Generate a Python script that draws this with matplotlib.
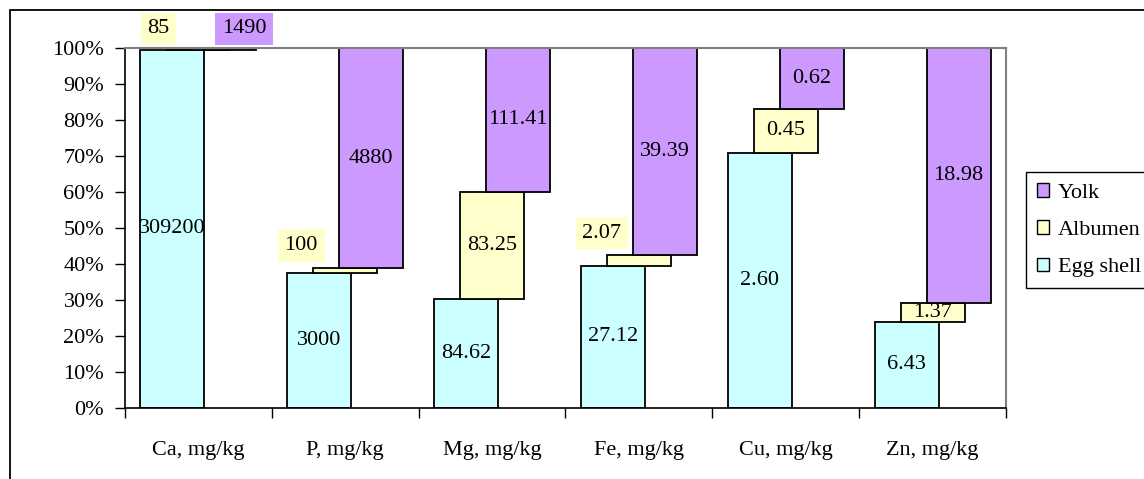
import numpy as np
import matplotlib
matplotlib.use('Agg')
import matplotlib.pyplot as plt
from matplotlib.patches import Rectangle, Patch
from matplotlib.ticker import FixedLocator, PercentFormatter

# data (mg/kg by part of the egg)
categories = ['Ca, mg/kg', 'P, mg/kg', 'Mg, mg/kg', 'Fe, mg/kg', 'Cu, mg/kg', 'Zn, mg/kg']
egg_shell = [309200, 3000, 84.62, 27.12, 2.60, 6.43]
albumen = [85, 100, 83.25, 2.07, 0.45, 1.37]
yolk = [1490, 4880, 111.41, 39.39, 0.62, 18.98]
series_names = ['Egg shell', 'Albumen', 'Yolk']

colors = ['#CCFFFF', '#FFFFCC', '#CC99FF']

plt.rcParams['font.family'] = ['Liberation Serif', 'DejaVu Serif']
plt.rcParams['font.size'] = 16

def fmt(v):
    return f'{v:g}' if float(v).is_integer() else f'{v:.2f}'

vals = np.array([egg_shell, albumen, yolk], dtype=float)
pct = vals / vals.sum(axis=0) * 100
bottoms = np.vstack([np.zeros(len(categories)), np.cumsum(pct, axis=0)[:-1]])

fig = plt.figure(figsize=(11.44, 4.79), dpi=100)
ax = fig.add_axes([125/1144, 1 - 408/479, (1006 - 125)/1144, (408 - 48)/479])

x = np.arange(len(categories))
width = 0.435
shift = 0.177

# labels Excel pushed out of tiny segments: (series, category) -> pixel offset
moved = {(1, 0): (-40, 21), (2, 0): (20, 20), (1, 1): (-44, 25), (1, 3): (-37, 27)}

for s in range(3):
    xs = x + (s - 1) * shift
    bars = ax.bar(xs, pct[s], width, bottom=bottoms[s], color=colors[s],
                  edgecolor='black', linewidth=1.3, zorder=2)
    for c in range(len(categories)):
        cy = bottoms[s][c] + pct[s][c] / 2
        off = moved.get((s, c), (0, 0))
        kw = {}
        if (s, c) in moved:
            kw['bbox'] = dict(boxstyle='square,pad=0.3', fc=colors[s], ec='none')
        t = ax.annotate(fmt(vals[s][c]), (xs[c], cy), xytext=off,
                        textcoords='offset pixels', ha='center', va='center',
                        fontsize=16, zorder=4, annotation_clip=False, **kw)
        if (s, c) == (1, 5):
            t.set_clip_path(bars[c])

ax.set_xlim(-0.5, len(categories) - 0.5)
ax.set_ylim(0, 100)
ax.yaxis.set_major_locator(FixedLocator(np.arange(0, 101, 10)))
ax.yaxis.set_major_formatter(PercentFormatter(decimals=0))
ax.tick_params(axis='y', direction='out', length=7, width=1, pad=8, labelsize=16)

ax.set_xticks(x)
ax.set_xticklabels(categories)
ax.set_xticks(np.arange(-0.5, len(categories)), minor=True)
ax.tick_params(axis='x', which='major', length=0, pad=24, labelsize=16)
ax.tick_params(axis='x', which='minor', direction='out', length=7, width=1)

for side in ['top', 'right']:
    ax.spines[side].set_color('#808080')
    ax.spines[side].set_linewidth(1.5)
for side in ['left', 'bottom']:
    ax.spines[side].set_color('black')
    ax.spines[side].set_linewidth(1.2)

handles = [Patch(facecolor=colors[s], edgecolor='black', linewidth=1) for s in [2, 1, 0]]
leg = fig.legend(handles, [series_names[s] for s in [2, 1, 0]],
                 loc='upper left', bbox_to_anchor=(1026/1144, 1 - 172/479),
                 frameon=True, fancybox=False, edgecolor='black', framealpha=1,
                 handlelength=0.55, handleheight=0.55, handletextpad=0.4,
                 labelspacing=0.8, borderpad=0.5, borderaxespad=0, fontsize=16)
leg.get_frame().set_linewidth(1)

# outer chart border
fig.add_artist(Rectangle((10/1144, -0.2), 1.5, 1.2 - 10/479, transform=fig.transFigure,
                         fill=False, edgecolor='black', linewidth=1.3, clip_on=False))

fig.savefig('out.png', dpi=100)
